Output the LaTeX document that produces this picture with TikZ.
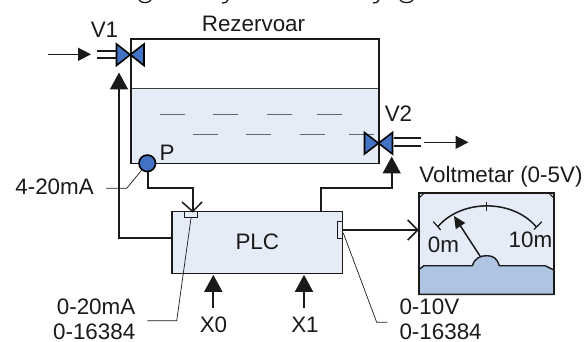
\documentclass[tikz,border=0pt]{standalone}
\usepackage{fontspec}
\setmainfont{Liberation Sans}
\usetikzlibrary{arrows.meta}
\definecolor{liq}{HTML}{E6ECF7}
\definecolor{vb}{HTML}{4472C4}
\definecolor{base}{HTML}{AFC3E2}
\definecolor{ink}{HTML}{1A1A1A}
\begin{document}
\begin{tikzpicture}[x=1pt,y=-1pt,
  lbl/.style={font=\fontsize{22.4}{26}\selectfont,inner sep=0pt,text=ink},
  wire/.style={line width=1.7pt,draw=ink},
  bigarr/.style={line width=1.7pt,draw=ink,-{Triangle[length=17pt,width=18pt]}},
  barb/.style={line width=1.7pt,draw=ink,-{Straight Barb[length=10pt,width=20pt,line width=1.5pt]}},
  flowarr/.style={line width=1.5pt,draw=ink,-{Triangle[length=13pt,width=13pt]}},
  lead/.style={line width=0.7pt,draw=ink},
  valve/.style={fill=vb,draw=black,line width=1.6pt,line join=miter},
  tagbox/.style={fill=liq,draw=ink,line width=1pt}]
\useasboundingbox (0,0) rectangle (587,342);
% cropped descenders of the line above the picture
\draw[line width=1.3pt,ink] (139,0) .. controls (141,3.5) and (149,3.5) .. (151,0);
\draw[line width=1.3pt,ink] (222,3) .. controls (225,3.5) and (227,2) .. (228,0);
\draw[line width=1.3pt,ink] (373,3) .. controls (376,3.5) and (378,2) .. (379,0);
\draw[line width=1.3pt,ink] (400,0) .. controls (402,3.5) and (411,3.5) .. (413,0);
% tank
\fill[liq] (131,89) rectangle (379,163.4);
\draw[line width=1pt,draw=ink!85] (131,89) -- (379,89);
\node[draw=ink,line width=1.4pt,minimum width=248pt,minimum height=124.4pt,inner sep=0pt] (tank) at (255,101.2) {};
\foreach \x in {160,213,267,317}{\draw[line width=.8pt,black!60] (\x,114) -- +(25,0);}
\foreach \x in {193,246,300,349}{\draw[line width=.8pt,black!60] (\x,134.7) -- +(25,0);}
\node[lbl] (rez) at (253.5,23.5) {Rezervoar};
\node[lbl] (v1l) at (104.5,29.5) {V1};
\node[lbl] (v2l) at (398.5,114) {V2};
\node[lbl] (pl) at (167,153) {P};
% valve 1
\draw[valve] (116.5,44) -- (116.5,65.5) -- (144,44) -- (144,65.5) -- cycle;
\coordinate (v1in) at (119,72.5);
\coordinate (v1a) at (97,50.7); \coordinate (v1b) at (115.5,50.7);
\coordinate (v1c) at (97,58); \coordinate (v1d) at (115.5,58);
\draw[wire] (v1a) -- (v1b) (v1c) -- (v1d);
\coordinate (in1) at (48,54.3); \coordinate (in2) at (91,54.3);
\draw[flowarr] (in1) -- (in2);
% valve 2
\draw[valve] (364.5,132.5) -- (364.5,154) -- (392.5,132.5) -- (392.5,154) -- cycle;
\coordinate (v2in) at (391.7,156.5);
\coordinate (v2a) at (393.5,138.3); \coordinate (v2b) at (421,138.3);
\coordinate (v2c) at (393.5,145.7); \coordinate (v2d) at (421,145.7);
\draw[wire] (v2a) -- (v2b) (v2c) -- (v2d);
\coordinate (out1) at (424,142.3); \coordinate (out2) at (468.5,142.3);
\draw[flowarr] (out1) -- (out2);
% PLC
\node[draw=ink,fill=liq,line width=1.6pt,minimum width=170.3pt,minimum height=61.6pt,inner sep=0pt] (plc) at (257.2,242.5) {};
\node[lbl] (plct) at (257.3,241.5) {PLC};
\node[tagbox,minimum width=13.4pt,minimum height=6pt,inner sep=0pt] (tagin) at (191,214.7) {};
\node[tagbox,minimum width=4.6pt,minimum height=16.6pt,inner sep=0pt] (tagout) at (340,230) {};
% wires
\draw[bigarr] (plc.west |- 0,238) -| (v1in);
\draw[bigarr] (320.7,211.7) |- (391.7,188.3) -- (v2in);
% sensor
\node[draw=black,fill=vb,circle,line width=1.6pt,minimum size=16.5pt,inner sep=0pt] (P) at (147.3,163.3) {};
\coordinate (s1) at (192.7,188.3); \coordinate (s2) at (192.7,211.5);
\draw[wire] (148,172) |- (s1) -- (s2);
\coordinate (b1) at (182,202); \coordinate (b3) at (202,202);
\draw[line width=1.5pt,ink] (b1) -- (s2) -- (b3);
% leads
\node[lbl,anchor=east] (ma) at (94,186.7) {4-20mA};
\draw[lead] (106,188.3) -- (126.7,188.3) -- (P);
\node[lbl,anchor=east] (a1) at (135.5,306.7) {0-20mA};
\node[lbl,anchor=east] (a2) at (135.5,331.3) {0-16384};
\draw[lead] (147.3,320.7) -- (176.7,320.7) -- (tagin.south);
\node[lbl,anchor=west] (b1t) at (399.3,306.7) {0-10V};
\node[lbl,anchor=west] (b2t) at (399.3,331.3) {0-16384};
\draw[lead] (387.3,322.3) -- (376.7,322.3) -- (343.3,233);
% X inputs
\node[lbl] (x0) at (213.5,325) {X0};
\node[lbl] (x1) at (305,325) {X1};
\draw[bigarr] (213.3,308.3) -- (213.3,274.8);
\draw[bigarr] (304,308.3) -- (304,274.8);
% voltmeter
\node[lbl] (vm) at (501,177) {Voltmetar (0-5V)};
\node[draw=none,fill=liq,minimum width=135pt,minimum height=101pt,inner sep=0pt] (meter) at (486.5,243.8) {};
\fill[base,draw=ink,line width=1.4pt] (419,269.5) -- (424,265.7) -- (472.3,265.7) .. controls (475,258) and (480,255.7) .. (486.7,255.7) .. controls (493,255.7) and (497,258) .. (499.3,265.7) -- (545,265.7) -- (554,270) -- (554,294.3) -- (419,294.3) -- cycle;
\draw[line width=1.7pt,ink] (meter.south west) rectangle (meter.north east);
\draw[line width=1pt,ink] (419,198) -- (424,193.3) (549,193.3) -- (554,198);
\draw[line width=1.5pt,ink] (438,226.5) .. controls (462,199) and (512,199) .. (536,226.5);
\draw[line width=1.2pt,ink] (433.3,221.7) -- (440.7,230) (534,229.5) -- (541.7,221.7);
\draw[line width=.8pt,ink] (486.7,201.7) -- (486.7,210.7);
\draw[line width=1.5pt,ink,-{Triangle[length=12pt,width=11pt]}] (480,256) -- (454,216);
\node[lbl] (m0) at (443.5,245) {0m};
\node[lbl] (m10) at (530.5,240) {10m};
\draw[barb] (tagout.east) -- (meter.west |- tagout.east);
\end{tikzpicture}
\end{document}
